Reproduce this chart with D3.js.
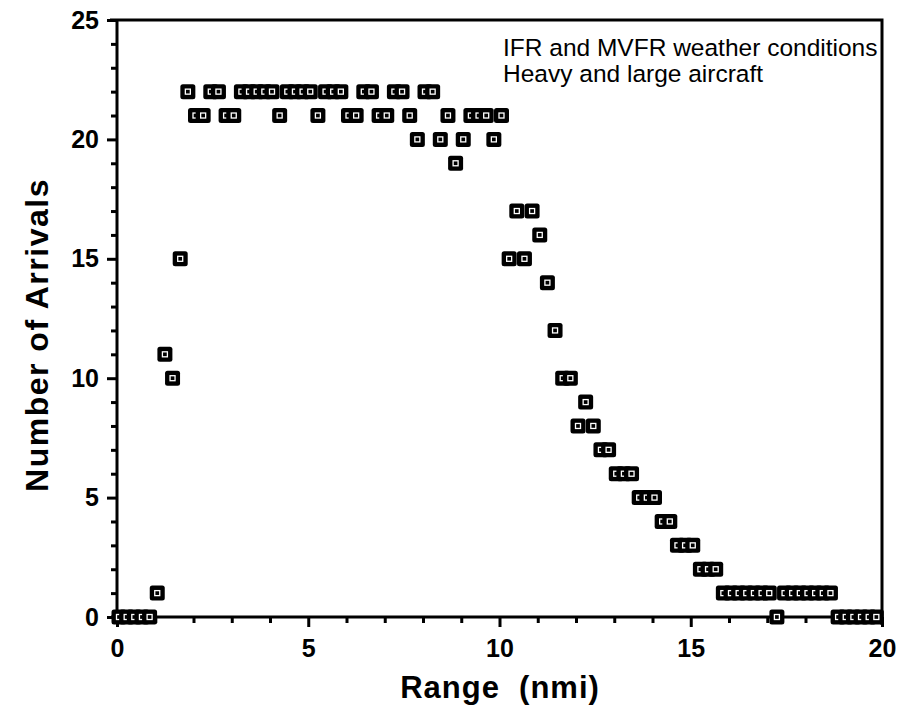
<!DOCTYPE html>
<html>
<head>
<meta charset="utf-8">
<script src="https://cdn.jsdelivr.net/npm/d3@7"></script>
<style>
  html, body { margin: 0; padding: 0; background: #fff; }
  svg { display: block; }
  text { font-family: "Liberation Sans", Arial, Helvetica, sans-serif; fill: #000; }
</style>
</head>
<body>
<svg id="chart" width="903" height="709"></svg>
<script>
// ---- data ----
const rangeNmi = [
  0.0, 0.2, 0.4, 0.6, 0.8, 1.0, 1.2, 1.4, 1.6, 1.8,
  2.0, 2.2, 2.4, 2.6, 2.8, 3.0, 3.2, 3.4, 3.6, 3.8,
  4.0, 4.2, 4.4, 4.6, 4.8, 5.0, 5.2, 5.4, 5.6, 5.8,
  6.0, 6.2, 6.4, 6.6, 6.8, 7.0, 7.2, 7.4, 7.6, 7.8,
  8.0, 8.2, 8.4, 8.6, 8.8, 9.0, 9.2, 9.4, 9.6, 9.8,
  10.0, 10.2, 10.4, 10.6, 10.8, 11.0, 11.2, 11.4, 11.6, 11.8,
  12.0, 12.2, 12.4, 12.6, 12.8, 13.0, 13.2, 13.4, 13.6, 13.8,
  14.0, 14.2, 14.4, 14.6, 14.8, 15.0, 15.2, 15.4, 15.6, 15.8,
  16.0, 16.2, 16.4, 16.6, 16.8, 17.0, 17.2, 17.4, 17.6, 17.8,
  18.0, 18.2, 18.4, 18.6, 18.8, 19.0, 19.2, 19.4, 19.6, 19.8
];
const arrivals = [
  0, 0, 0, 0, 0, 1, 11, 10, 15, 22,
  21, 21, 22, 22, 21, 21, 22, 22, 22, 22,
  22, 21, 22, 22, 22, 22, 21, 22, 22, 22,
  21, 21, 22, 22, 21, 21, 22, 22, 21, 20,
  22, 22, 20, 21, 19, 20, 21, 21, 21, 20,
  21, 15, 17, 15, 17, 16, 14, 12, 10, 10,
  8, 9, 8, 7, 7, 6, 6, 6, 5, 5,
  5, 4, 4, 3, 3, 3, 2, 2, 2, 1,
  1, 1, 1, 1, 1, 1, 0, 1, 1, 1,
  1, 1, 1, 1, 0, 0, 0, 0, 0, 0
];
const xTicks = [0, 5, 10, 15, 20];
const yTicks = [0, 5, 10, 15, 20, 25];
const legendLines = ["IFR and MVFR weather conditions", "Heavy and large aircraft"];
const xTitle = "Range  (nmi)";
const yTitle = "Number of Arrivals";

// ---- layout ----
const svg = d3.select("#chart");
const x = d3.scaleLinear().domain([0, 20]).range([117, 882]);
const y = d3.scaleLinear().domain([0, 25]).range([617, 20]);

// frame (top and right)
svg.append("path")
  .attr("d", `M${x(0) - 7},${y(25)}H${x(20)}V${y(0) + 8}`)
  .attr("fill", "none").attr("stroke", "#000").attr("stroke-width", 3);

// x axis
const xAxisMajor = d3.axisBottom(x).tickValues(xTicks).tickSize(10).tickPadding(12)
  .tickFormat(d3.format("d"));
const gx = svg.append("g").attr("transform", `translate(0,${y(0)})`).call(xAxisMajor);
gx.select(".domain").attr("stroke-width", 3).attr("d", `M${x(0) - 6},0H${x(20)}`);
gx.selectAll(".tick line").attr("stroke-width", 3);
gx.selectAll(".tick text").attr("font-size", 25).attr("font-weight", "bold")
  .style("font-family", '"Liberation Sans", Arial, sans-serif');
const minorX = d3.range(0, 21).filter(v => v % 5 !== 0);
svg.append("g").attr("transform", `translate(0,${y(0)})`)
  .call(d3.axisBottom(x).tickValues(minorX).tickSize(6).tickFormat(""))
  .call(g => g.select(".domain").remove())
  .selectAll(".tick line").attr("stroke-width", 3);

// y axis
const yAxisMajor = d3.axisLeft(y).tickValues(yTicks).tickSize(10).tickPadding(8)
  .tickFormat(d3.format("d"));
const gy = svg.append("g").attr("transform", `translate(${x(0)},0)`).call(yAxisMajor);
gy.select(".domain").attr("stroke-width", 3).attr("d", `M0,${y(0) + 6}V${y(25)}`);
gy.selectAll(".tick line").attr("stroke-width", 3);
gy.selectAll(".tick text").attr("font-size", 25).attr("font-weight", "bold")
  .style("font-family", '"Liberation Sans", Arial, sans-serif');
const minorY = d3.range(0, 26).filter(v => v % 5 !== 0);
svg.append("g").attr("transform", `translate(${x(0)},0)`)
  .call(d3.axisLeft(y).tickValues(minorY).tickSize(6).tickFormat(""))
  .call(g => g.select(".domain").remove())
  .selectAll(".tick line").attr("stroke-width", 3);

// markers
const pts = rangeNmi.map((r, i) => ({ r, v: arrivals[i] }));
const mk = svg.append("g").selectAll("g").data(pts).join("g")
  .attr("transform", d => `translate(${x(d.r) + 2},${y(d.v)})`);
mk.append("rect").attr("x", -7.5).attr("y", -7.5).attr("width", 15).attr("height", 15)
  .attr("rx", 2.5).attr("fill", "#000");
mk.append("rect").attr("x", -2.5).attr("y", -2.5).attr("width", 5).attr("height", 5)
  .attr("fill", "none").attr("stroke", "#fff").attr("stroke-width", 1.3);

// legend text
svg.append("g").selectAll("text").data(legendLines).join("text")
  .attr("x", 503).attr("y", (d, i) => 56 + i * 26)
  .attr("font-size", 24.5)
  .text(d => d);

// axis titles
svg.append("text").attr("x", 500).attr("y", 698).attr("text-anchor", "middle")
  .attr("font-size", 31).attr("font-weight", "bold")
  .style("white-space", "pre").attr("letter-spacing", 1).text(xTitle);
svg.append("text").attr("transform", `translate(48,${335}) rotate(-90)`)
  .attr("text-anchor", "middle").attr("font-size", 32).attr("font-weight", "bold")
  .attr("letter-spacing", 1.5)
  .text(yTitle);
</script>
</body>
</html>
